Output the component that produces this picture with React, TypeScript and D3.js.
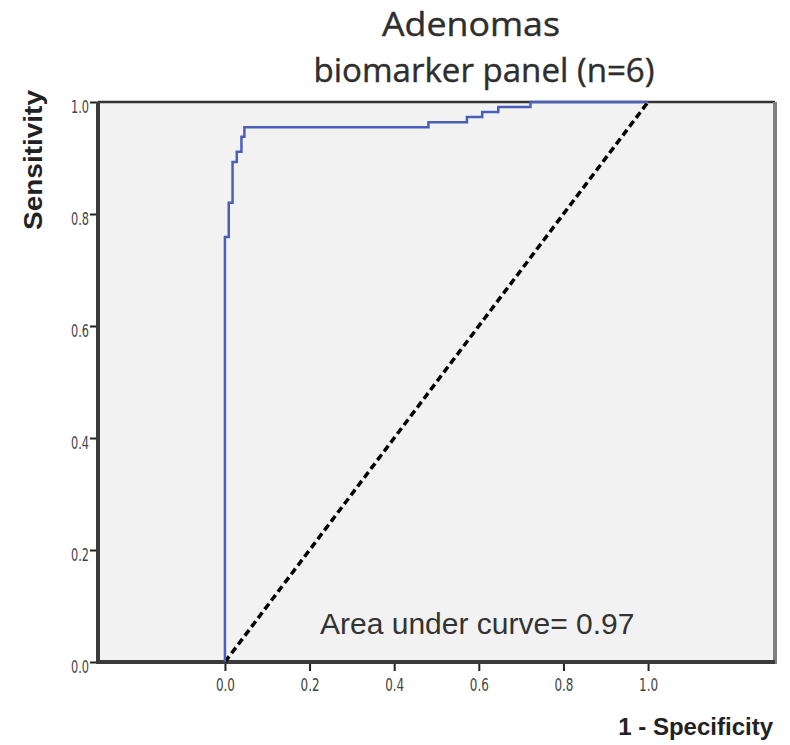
import React, { useEffect, useRef } from "react";
import * as d3 from "d3";

// ROC curve step points (1 - specificity, sensitivity)
const fpr = [0, 0, 0.009, 0.018, 0.028, 0.039, 0.046, 0.481, 0.572, 0.608, 0.646, 0.722, 1.0];
const tpr = [0, 0.759, 0.82, 0.893, 0.911, 0.938, 0.955, 0.964, 0.973, 0.982, 0.991, 1.0, 1.0];

// reference line
const refX = [0, 1];
const refY = [0, 1];

const tickValues = [0, 0.2, 0.4, 0.6, 0.8, 1.0];
const titleLines = ["Adenomas", "biomarker panel (n=6)"];
const aucLabel = "Area under curve= 0.97";

const W = 790;
const H = 745;

const App = () => {
  const svgRef = useRef<SVGSVGElement | null>(null);

  useEffect(() => {
    if (!svgRef.current) return;
    const svg = d3.select(svgRef.current);
    svg.selectAll("*").remove();

    const left = 98;
    const right = 775;
    const top = 102;
    const bottom = 662;

    const x = d3.scaleLinear().domain([-0.3, 1.3]).range([left, right]);
    const y = d3.scaleLinear().domain([0, 1]).range([bottom, top]);

    // plot background
    svg
      .append("rect")
      .attr("x", left)
      .attr("y", top)
      .attr("width", right - left)
      .attr("height", bottom - top)
      .attr("fill", "#f2f2f2");

    // title
    const titleFont = "'Open Sans', 'Noto Sans', sans-serif";
    svg
      .append("text")
      .attr("x", 471)
      .attr("y", 36)
      .attr("text-anchor", "middle")
      .attr("font-family", titleFont)
      .attr("font-size", 33)
      .attr("fill", "#2e2e2e")
      .attr("stroke", "#2e2e2e")
      .attr("stroke-width", 0.4)
      .attr("textLength", 178)
      .attr("lengthAdjust", "spacingAndGlyphs")
      .text(titleLines[0]);
    svg
      .append("text")
      .attr("x", 484)
      .attr("y", 82)
      .attr("text-anchor", "middle")
      .attr("font-family", titleFont)
      .attr("font-size", 33)
      .attr("fill", "#2e2e2e")
      .attr("stroke", "#2e2e2e")
      .attr("stroke-width", 0.4)
      .attr("textLength", 341)
      .attr("lengthAdjust", "spacingAndGlyphs")
      .text(titleLines[1]);

    const tickFont = "'Liberation Sans Narrow', 'DejaVu Sans Condensed', sans-serif";
    const fmt = d3.format(".1f");

    // x axis
    const xAxis = d3
      .axisBottom(x)
      .tickValues(tickValues)
      .tickFormat((d) => fmt(d as number))
      .tickSize(9)
      .tickPadding(8);
    const gx = svg.append("g").attr("transform", `translate(0,${bottom})`).call(xAxis);
    gx.select(".domain").remove();
    gx.selectAll(".tick line").attr("stroke", "#222").attr("stroke-width", 2);
    gx.selectAll(".tick text")
      .attr("font-family", tickFont)
      .attr("font-size", 17)
      .attr("fill", "#444")
      .attr("textLength", 19)
      .attr("lengthAdjust", "spacingAndGlyphs");

    // y axis
    const yAxis = d3
      .axisLeft(y)
      .tickValues(tickValues)
      .tickFormat((d) => fmt(d as number))
      .tickSize(8)
      .tickPadding(1);
    const gy = svg.append("g").attr("transform", `translate(${left},0)`).call(yAxis);
    gy.select(".domain").remove();
    gy.selectAll(".tick line").attr("stroke", "#222").attr("stroke-width", 2);
    gy.selectAll(".tick text")
      .attr("font-family", tickFont)
      .attr("font-size", 17)
      .attr("fill", "#444")
      .attr("dy", "0.62em")
      .attr("textLength", 18)
      .attr("lengthAdjust", "spacingAndGlyphs");

    // frame
    svg.append("line").attr("x1", left).attr("x2", right).attr("y1", top).attr("y2", top)
      .attr("stroke", "#333").attr("stroke-width", 2.5);
    svg.append("line").attr("x1", right).attr("x2", right).attr("y1", top).attr("y2", bottom + 2)
      .attr("stroke", "#808080").attr("stroke-width", 4);
    svg.append("line").attr("x1", left).attr("x2", left).attr("y1", top).attr("y2", bottom + 2)
      .attr("stroke", "#3a3a3a").attr("stroke-width", 4);
    svg.append("line").attr("x1", left - 2).attr("x2", right).attr("y1", bottom).attr("y2", bottom)
      .attr("stroke", "#3a3a3a").attr("stroke-width", 4);

    // diagonal reference
    const line = d3
      .line<number>()
      .x((_, i) => x(refX[i]))
      .y((_, i) => y(refY[i]));
    svg
      .append("path")
      .attr("d", line(refX))
      .attr("fill", "none")
      .attr("stroke", "#000")
      .attr("stroke-width", 3.5)
      .attr("stroke-dasharray", "7,4");

    // ROC curve
    const roc = d3
      .line<number>()
      .x((_, i) => x(fpr[i]))
      .y((_, i) => y(tpr[i]))
      .curve(d3.curveStepAfter);
    svg
      .append("path")
      .attr("d", roc(fpr))
      .attr("fill", "none")
      .attr("stroke", "#4a60b8")
      .attr("stroke-width", 2.5);

    // AUC label
    svg
      .append("text")
      .attr("x", 320)
      .attr("y", 634)
      .attr("font-family", "'Liberation Sans', Arial, sans-serif")
      .attr("font-size", 30)
      .attr("fill", "#333")
      .text(aucLabel);

    // axis titles
    svg
      .append("text")
      .attr("transform", "translate(42,160) rotate(-90)")
      .attr("text-anchor", "middle")
      .attr("font-family", "'Liberation Sans', Arial, sans-serif")
      .attr("font-weight", "bold")
      .attr("font-size", 25)
      .attr("fill", "#222")
      .attr("textLength", 140)
      .attr("lengthAdjust", "spacingAndGlyphs")
      .text("Sensitivity");
    svg
      .append("text")
      .attr("x", 773)
      .attr("y", 735)
      .attr("text-anchor", "end")
      .attr("font-family", "'Liberation Sans', Arial, sans-serif")
      .attr("font-weight", "bold")
      .attr("font-size", 24)
      .attr("fill", "#222")
      .text("1 - Specificity");
  }, []);

  return (
    <div style={{ position: "absolute", left: 0, top: 0 }}>
      <svg ref={svgRef} width={W} height={H} style={{ display: "block", background: "#fff" }}></svg>
    </div>
  );
};

export default App;
